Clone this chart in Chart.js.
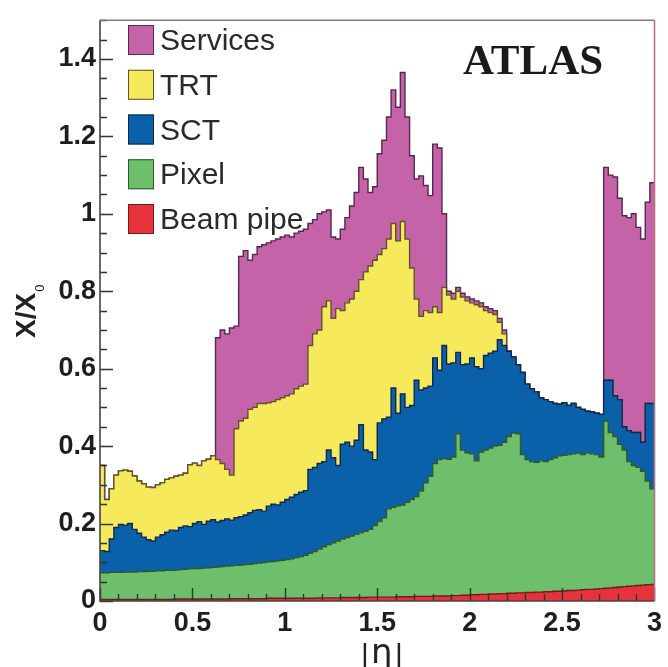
<!DOCTYPE html>
<html>
<head>
<meta charset="utf-8">
<script src="https://cdn.jsdelivr.net/npm/chart.js@4.4.1/dist/chart.umd.min.js"></script>
<style>
  html, body { margin: 0; padding: 0; background: #ffffff; overflow: hidden; }
  canvas { display: block; }
</style>
</head>
<body>
<canvas id="material" width="668" height="667"></canvas>
<script>
// Material budget of the ATLAS inner detector versus |eta|.
// Histogram bins of width 0.025 in |eta| from 0 to 3; each array holds the
// cumulative X/X0 up to and including that sub-detector (stacked order:
// beam pipe, pixel, SCT, TRT, services).
const BIN_WIDTH = 0.025;
const etaEdges = Array.from({ length: 121 }, (_, i) => +(i * BIN_WIDTH).toFixed(3));

const xTickValues = [0, 0.5, 1, 1.5, 2, 2.5, 3];
const yTickValues = [0, 0.2, 0.4, 0.6, 0.8, 1, 1.2, 1.4];

const beamPipe = [
  0.004, 0.004, 0.004, 0.004, 0.004, 0.004, 0.004, 0.004, 0.004, 0.004,
  0.004, 0.004, 0.004, 0.004, 0.004, 0.004, 0.005, 0.005, 0.005, 0.005,
  0.005, 0.005, 0.005, 0.005, 0.005, 0.005, 0.005, 0.005, 0.006, 0.006,
  0.006, 0.006, 0.006, 0.006, 0.006, 0.006, 0.007, 0.007, 0.007, 0.007,
  0.007, 0.007, 0.007, 0.007, 0.007, 0.007, 0.007, 0.008, 0.008, 0.008,
  0.008, 0.008, 0.009, 0.009, 0.009, 0.009, 0.009, 0.009, 0.010, 0.010,
  0.010, 0.010, 0.010, 0.010, 0.011, 0.011, 0.011, 0.011, 0.012, 0.012,
  0.012, 0.012, 0.013, 0.013, 0.013, 0.013, 0.014, 0.014, 0.015, 0.015,
  0.016, 0.016, 0.017, 0.017, 0.018, 0.018, 0.019, 0.019, 0.020, 0.020,
  0.021, 0.021, 0.022, 0.022, 0.023, 0.023, 0.024, 0.024, 0.025, 0.025,
  0.026, 0.027, 0.027, 0.028, 0.029, 0.030, 0.030, 0.031, 0.032, 0.033,
  0.034, 0.035, 0.036, 0.037, 0.038, 0.039, 0.040, 0.041, 0.042, 0.043
];

const pixel = [
  0.073, 0.073, 0.074, 0.074, 0.074, 0.075, 0.075, 0.075, 0.076, 0.076,
  0.077, 0.077, 0.078, 0.078, 0.079, 0.079, 0.080, 0.081, 0.082, 0.083,
  0.084, 0.084, 0.085, 0.086, 0.087, 0.088, 0.089, 0.090, 0.091, 0.092,
  0.093, 0.094, 0.095, 0.097, 0.098, 0.099, 0.101, 0.102, 0.104, 0.105,
  0.107, 0.109, 0.112, 0.115, 0.118, 0.123, 0.128, 0.134, 0.140, 0.146,
  0.150, 0.155, 0.160, 0.164, 0.168, 0.172, 0.176, 0.180, 0.185, 0.195,
  0.205, 0.215, 0.238, 0.242, 0.246, 0.248, 0.255, 0.262, 0.270, 0.284,
  0.305, 0.322, 0.355, 0.365, 0.368, 0.366, 0.372, 0.432, 0.390, 0.383,
  0.380, 0.362, 0.385, 0.390, 0.395, 0.400, 0.402, 0.410, 0.425, 0.434,
  0.432, 0.378, 0.365, 0.360, 0.358, 0.362, 0.360, 0.365, 0.370, 0.375,
  0.376, 0.378, 0.380, 0.382, 0.378, 0.383, 0.380, 0.378, 0.372, 0.465,
  0.435, 0.425, 0.405, 0.390, 0.360, 0.350, 0.345, 0.335, 0.310, 0.290
];

const sct = [
  0.130, 0.128, 0.160, 0.190, 0.198, 0.196, 0.200, 0.185, 0.175, 0.165,
  0.158, 0.155, 0.165, 0.171, 0.178, 0.183, 0.182, 0.190, 0.194, 0.192,
  0.200, 0.205, 0.198, 0.206, 0.210, 0.204, 0.208, 0.212, 0.209, 0.215,
  0.218, 0.222, 0.228, 0.234, 0.236, 0.232, 0.245, 0.250, 0.248, 0.255,
  0.262, 0.268, 0.275, 0.281, 0.285, 0.340, 0.345, 0.355, 0.360, 0.390,
  0.370, 0.350, 0.405, 0.410, 0.400, 0.415, 0.455, 0.390, 0.385, 0.365,
  0.460, 0.470, 0.475, 0.550, 0.485, 0.535, 0.500, 0.505, 0.570, 0.545,
  0.550, 0.555, 0.628, 0.596, 0.660, 0.612, 0.615, 0.642, 0.610, 0.612,
  0.628, 0.605, 0.600, 0.634, 0.640, 0.645, 0.675, 0.660, 0.645, 0.630,
  0.610, 0.590, 0.560, 0.548, 0.540, 0.525, 0.520, 0.515, 0.510, 0.508,
  0.512, 0.505, 0.510, 0.500, 0.495, 0.490, 0.488, 0.485, 0.482, 0.570,
  0.570, 0.530, 0.520, 0.450, 0.440, 0.435, 0.435, 0.410, 0.510, 0.510
];

const trt = [
  0.350, 0.262, 0.290, 0.325, 0.336, 0.338, 0.335, 0.323, 0.310, 0.303,
  0.294, 0.293, 0.300, 0.305, 0.314, 0.318, 0.322, 0.325, 0.330, 0.352,
  0.356, 0.350, 0.362, 0.366, 0.375, 0.365, 0.355, 0.340, 0.325, 0.445,
  0.465, 0.472, 0.495, 0.500, 0.510, 0.510, 0.512, 0.515, 0.520, 0.525,
  0.530, 0.535, 0.548, 0.555, 0.560, 0.660, 0.690, 0.700, 0.760, 0.775,
  0.730, 0.755, 0.750, 0.770, 0.780, 0.800, 0.830, 0.850, 0.865, 0.880,
  0.895, 0.910, 0.935, 0.975, 0.930, 0.980, 0.935, 0.860, 0.780, 0.735,
  0.750, 0.745, 0.760, 0.745, 0.810, 0.790, 0.780, 0.800, 0.785, 0.775,
  0.770, 0.765, 0.760, 0.750, 0.745, 0.740, 0.720, 0.690, 0.645, 0.630,
  0.610, 0.590, 0.560, 0.548, 0.540, 0.525, 0.520, 0.515, 0.510, 0.508,
  0.512, 0.505, 0.510, 0.500, 0.495, 0.490, 0.488, 0.485, 0.482, 0.570,
  0.570, 0.530, 0.520, 0.450, 0.440, 0.435, 0.435, 0.410, 0.510, 0.510
];

const services = [
  0.350, 0.262, 0.290, 0.325, 0.336, 0.338, 0.335, 0.323, 0.310, 0.303,
  0.294, 0.293, 0.300, 0.305, 0.314, 0.318, 0.322, 0.325, 0.330, 0.352,
  0.356, 0.350, 0.362, 0.366, 0.375, 0.680, 0.700, 0.690, 0.705, 0.710,
  0.890, 0.905, 0.880, 0.895, 0.915, 0.920, 0.925, 0.930, 0.935, 0.940,
  0.945, 0.940, 0.950, 0.955, 0.960, 0.975, 0.985, 1.000, 1.005, 1.010,
  0.940, 0.935, 0.960, 0.990, 1.020, 1.055, 1.120, 1.090, 1.055, 1.070,
  1.155, 1.190, 1.250, 1.320, 1.275, 1.365, 1.250, 1.150, 1.090, 1.098,
  1.073, 1.047, 1.180, 1.170, 1.000, 0.800, 0.795, 0.810, 0.795, 0.785,
  0.780, 0.775, 0.770, 0.760, 0.755, 0.750, 0.730, 0.700, 0.645, 0.630,
  0.610, 0.590, 0.560, 0.548, 0.540, 0.525, 0.520, 0.515, 0.510, 0.508,
  0.512, 0.505, 0.510, 0.500, 0.495, 0.490, 0.488, 0.485, 0.482, 1.120,
  1.100, 1.095, 1.040, 0.995, 0.990, 1.000, 0.965, 0.935, 1.030, 1.080
];

const layerNames = ['Beam pipe', 'Pixel', 'SCT', 'TRT', 'Services'];
const layerFill = ['#e6333b', '#6dbf6b', '#0b61a9', '#f6ea5c', '#c563a9'];
const layerLine = ['#6e1c1c', '#2c5a2c', '#10284f', '#5e5228', '#55284f'];
const layerValues = [beamPipe, pixel, sct, trt, services];

const SANS = '"Liberation Sans", Arial, Helvetica, sans-serif';

// One point per lower bin edge plus a closing point at |eta| = 3,
// drawn as a step line so every bin is a flat segment.
function toSteps(values) {
  return etaEdges.map((x, i) => ({ x: x, y: values[Math.min(i, values.length - 1)] }));
}

const datasets = layerValues.map((vals, i) => ({
  label: layerNames[i],
  data: toSteps(vals),
  stepped: true,
  fill: i === 0 ? 'origin' : '-1',
  backgroundColor: layerFill[i],
  borderColor: layerLine[i],
  borderWidth: 1.4,
  pointRadius: 0,
  tension: 0
}));

const fmt = (v) => String(parseFloat(Number(v).toFixed(2)));

// Frame, inward tick marks, legend and annotations.
const decorations = {
  id: 'decorations',
  afterDatasetsDraw(chart) {
    const ctx = chart.ctx;
    const a = chart.chartArea;
    const xs = chart.scales.x;
    const ys = chart.scales.y;
    ctx.save();

    // tick marks pointing into the plot
    ctx.strokeStyle = '#333333';
    ctx.lineWidth = 1.4;
    ctx.beginPath();
    for (let i = 0; i <= 30; i++) {
      const v = i / 10;
      const px = Math.round(xs.getPixelForValue(v)) + 0.5;
      const len = (i % 5 === 0) ? 13 : 7;
      ctx.moveTo(px, a.bottom);
      ctx.lineTo(px, a.bottom - len);
    }
    for (let i = 0; i <= 30; i++) {
      const v = i / 20;
      const py = Math.round(ys.getPixelForValue(v)) + 0.5;
      const len = (i % 4 === 0) ? 13 : 7;
      ctx.moveTo(a.left, py);
      ctx.lineTo(a.left + len, py);
    }
    ctx.stroke();

    // frame
    ctx.lineWidth = 1.6;
    ctx.strokeStyle = '#8d7482';
    ctx.beginPath();
    ctx.moveTo(a.left, a.top);
    ctx.lineTo(a.right, a.top);
    ctx.stroke();
    ctx.strokeStyle = '#b9707f';
    ctx.beginPath();
    ctx.moveTo(a.right, a.top);
    ctx.lineTo(a.right, a.bottom);
    ctx.stroke();
    ctx.strokeStyle = '#444444';
    ctx.beginPath();
    ctx.moveTo(a.left, a.top);
    ctx.lineTo(a.left, a.bottom);
    ctx.lineTo(a.right, a.bottom);
    ctx.stroke();

    // legend, listed from the top of the stack down
    ctx.font = '30px ' + SANS;
    ctx.textBaseline = 'alphabetic';
    ctx.textAlign = 'left';
    const order = [4, 3, 2, 1, 0];
    order.forEach((idx, row) => {
      const ds = chart.data.datasets[idx];
      const top = 25 + row * 44.75;
      ctx.fillStyle = ds.backgroundColor;
      ctx.fillRect(128, top, 26, 30);
      ctx.lineWidth = 1;
      ctx.strokeStyle = ds.borderColor;
      ctx.strokeRect(128.5, top + 0.5, 25, 29);
      ctx.fillStyle = '#2a2a2a';
      ctx.fillText(ds.label, 160, top + 25);
    });

    // experiment label
    ctx.font = 'bold 43px "Liberation Serif", "Times New Roman", serif';
    ctx.fillStyle = '#1a1a1a';
    ctx.fillText('ATLAS', 463, 74);

    // y-axis title X/X0
    ctx.save();
    ctx.translate(35, 338);
    ctx.rotate(-Math.PI / 2);
    ctx.font = 'bold 28px ' + SANS;
    ctx.fillStyle = '#222222';
    ctx.fillText('X/X', 0, 0);
    const w = ctx.measureText('X/X').width;
    ctx.font = '13px ' + SANS;
    ctx.fillText('0', w + 1, 9);
    ctx.restore();

    // x-axis title |eta|
    ctx.fillStyle = '#222222';
    ctx.font = '30px ' + SANS;
    ctx.fillText('|', 361, 665);
    ctx.fillText('|', 395, 665);
    ctx.font = '34px "DejaVu Sans", ' + SANS;
    ctx.fillText('η', 371, 663);

    ctx.restore();
  }
};

new Chart(document.getElementById('material').getContext('2d'), {
  type: 'line',
  data: { datasets: datasets },
  options: {
    responsive: false,
    animation: false,
    devicePixelRatio: 1,
    layout: { padding: { top: 10, right: 3, left: 0, bottom: 0 }, autoPadding: false },
    plugins: {
      legend: { display: false },
      tooltip: { enabled: false },
      filler: { propagate: false }
    },
    scales: {
      x: {
        type: 'linear',
        min: 0,
        max: 3,
        afterBuildTicks: (s) => { s.ticks = xTickValues.map((v) => ({ value: v })); },
        afterFit: (s) => { s.height = 66; },
        grid: { display: false, drawTicks: false },
        border: { display: false },
        ticks: {
          autoSkip: false,
          maxRotation: 0,
          padding: 6,
          color: '#1e1e1e',
          font: { family: SANS, size: 27, weight: 'bold' },
          callback: fmt
        }
      },
      y: {
        type: 'linear',
        min: 0,
        max: 1.5,
        afterBuildTicks: (s) => { s.ticks = yTickValues.map((v) => ({ value: v })); },
        afterFit: (s) => { s.width = 100; },
        grid: { display: false, drawTicks: false },
        border: { display: false },
        ticks: {
          autoSkip: false,
          padding: 4,
          color: '#1e1e1e',
          font: { family: SANS, size: 27, weight: 'bold' },
          callback: fmt
        }
      }
    }
  },
  plugins: [decorations]
});
</script>
</body>
</html>
